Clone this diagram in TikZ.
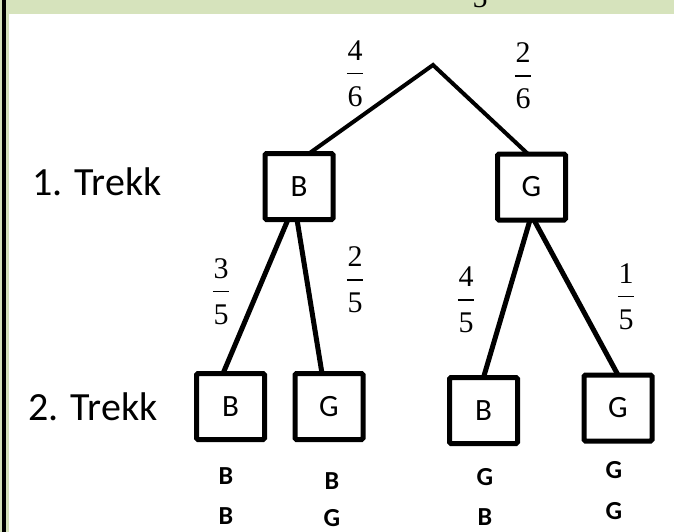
\documentclass[tikz,border=0pt]{standalone}
\usepackage{fontspec}
\setmainfont{Carlito}
\newfontfamily\fracfont{Liberation Serif}
\definecolor{bandgreen}{HTML}{D6E3BC}
\newcommand\pfrac[2]{\vbox{\hbox to 0.55em{\hss#1\hss}\kern 12.5pt\hrule width 0.55em height 1.5pt\kern 12.5pt\hbox to 0.55em{\hss#2\hss}}}
\tikzset{
  box/.style={draw, line width=5pt, rounded corners=1.5pt, minimum width=68pt,
    minimum height=66pt, inner sep=0pt, outer sep=0pt, fill=white,
    font=\fontsize{31}{31}\selectfont},
  frac/.style={inner sep=0pt, font=\fracfont\fontsize{30}{30}\selectfont},
  lvl/.style={inner sep=0pt, anchor=base west, font=\fontsize{40}{40}\selectfont},
  res/.style={inner sep=0pt, font=\bfseries\fontsize{26}{26}\selectfont},
  edgetop/.style={line width=4pt, line join=miter},
  edgelow/.style={line width=5pt},
}
\begin{document}
\begin{tikzpicture}[x=1pt,y=-1pt]
\useasboundingbox (0,0) rectangle (674,532);
% background and frame
\fill[white] (0,0) rectangle (674,532);
\fill[bandgreen] (0,0) rectangle (674,14);
\fill[bandgreen] (0,0) rectangle (9,532);
\fill[black] (1.7,0) rectangle (5.7,532);
\begin{scope}
  \clip (9,0) rectangle (674,14);
  \node[frac, anchor=base] (cut5) at (480,8) {5};
\end{scope}
% labels
\node[lvl] (t1) at (32,195) {1. Trekk};
\node[lvl] (t2) at (28,420) {2. Trekk};
% tree
\coordinate (apex) at (433,65);
\node[box] (b1) at (299,186.5) {B};
\node[box] (g1) at (531.5,187) {G};
\node[box] (b2a) at (230.5,406.5) {B};
\node[box] (g2a) at (329,406.5) {G};
\node[box] (b2b) at (483.5,410.5) {B};
\node[box] (g2b) at (618,408) {G};
\draw[edgetop] ([xshift=10pt]b1.north) -- (apex) -- ([xshift=-3.5pt]g1.north);
\draw[edgelow] ([xshift=-11pt]b1.south) -- ([xshift=-7.5pt]b2a.north);
\draw[edgelow] ([xshift=-2pt]b1.south) -- ([xshift=-7pt]g2a.north);
\draw[edgelow] ([xshift=-1.5pt]g1.south) -- (b2b.north);
\draw[edgelow] ([xshift=2.5pt]g1.south) -- (g2b.north);
% probabilities
\node[frac] (p46) at (355,73.5) {\pfrac{4}{6}};
\node[frac] (p26) at (523,76) {\pfrac{2}{6}};
\node[frac] (p35) at (221,291.5) {\pfrac{3}{5}};
\node[frac] (p25) at (355,280) {\pfrac{2}{5}};
\node[frac] (p45) at (466,300) {\pfrac{4}{5}};
\node[frac] (p15) at (626,296.5) {\pfrac{1}{5}};
% outcomes
\node[res] (o1a) at (226,476) {B};
\node[res] (o1b) at (226,516.5) {B};
\node[res] (o2a) at (332,481) {B};
\node[res] (o2b) at (332,518.5) {G};
\node[res] (o3a) at (485,477) {G};
\node[res] (o3b) at (485,517) {B};
\node[res] (o4a) at (614,470) {G};
\node[res] (o4b) at (614,511) {G};
\end{tikzpicture}
\end{document}
